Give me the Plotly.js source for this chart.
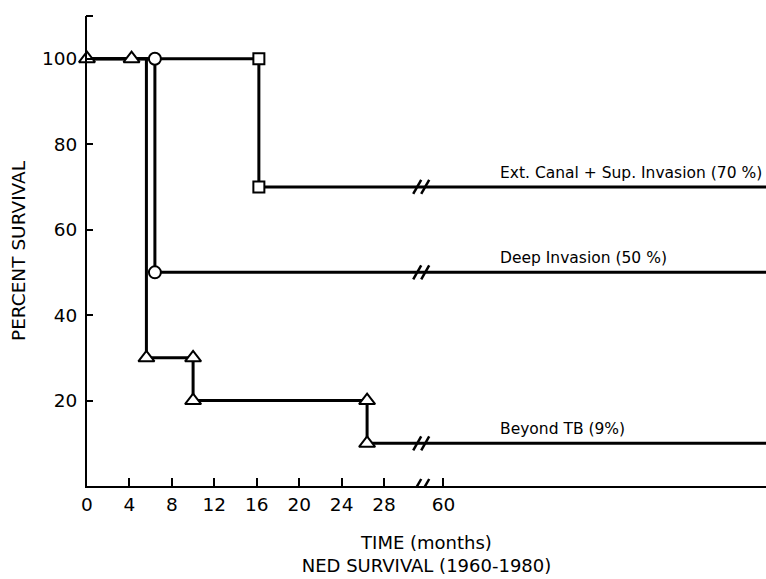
<!DOCTYPE html>
<html>
<head>
<meta charset="utf-8">
<script src="https://cdn.plot.ly/plotly-3.0.1.min.js"></script>
<style>html,body{margin:0;padding:0;background:#fff;}#chart{width:766px;height:579px;}</style>
</head>
<body>
<div id="chart"></div>
<script>
// ---- data (months, percent survival) ----
const extTimes   = [0, 16.2, 96];
const extSurv    = [100, 70, 70];
const extMarkT   = [16.2, 16.2];
const extMarkS   = [100, 70];

const deepTimes  = [0, 6.4, 96];
const deepSurv   = [100, 50, 50];
const deepMarkT  = [6.4, 6.4];
const deepMarkS  = [100, 50];

const beyTimes   = [0, 5.6, 10, 26.4, 96];
const beySurv    = [100, 30, 20, 10, 10];
const beyMarkT   = [0, 4.2, 5.6, 10, 10, 26.4, 26.4];
const beyMarkS   = [100, 100, 30, 30, 20, 20, 10];

const xTickVals  = [0, 4, 8, 12, 16, 20, 24, 28, 60];
const xTickText  = ['0', '4', '8', '12', '16', '20', '24', '28', '60'];
const yTickVals  = [20, 40, 60, 80, 100];
const yTickText  = ['20', '40', '60', '80', '100'];

const seriesLabels = ['Ext. Canal + Sup. Invasion (70 %)', 'Deep Invasion (50 %)', 'Beyond TB (9%)'];
const seriesEnd    = [70, 50, 10];

// ---- broken axis mapping ----
const BREAK_AT = 31.5;   // display position of the // mark
const SIXTY_AT = 33.6;   // display position of 60 months
function disp(t) { return t <= 30 ? t : t - 60 + SIXTY_AT; }
const D = arr => arr.map(disp);

const F = '"DejaVu Sans", sans-serif';
const lineStyle = {color: '#000', width: 3, shape: 'hv'};

function stepTrace(t, s) {
  return {x: D(t), y: s, mode: 'lines', line: lineStyle, hoverinfo: 'skip', showlegend: false};
}
function markTrace(t, s, sym, size) {
  return {x: D(t), y: s, mode: 'markers', hoverinfo: 'skip', showlegend: false, cliponaxis: false,
          marker: {symbol: sym, size: size, color: '#fff', line: {color: '#000', width: 2}}};
}

const data = [
  stepTrace(extTimes, extSurv),  markTrace(extMarkT, extMarkS, 'square', 11),
  stepTrace(deepTimes, deepSurv), markTrace(deepMarkT, deepMarkS, 'circle', 12),
  stepTrace(beyTimes, beySurv),  markTrace(beyMarkT, beyMarkS, 'triangle-up', 14)
];

// break marks "//" on each curve and on the x axis
const shapes = [];
function brk(yv) {
  [-4, 4].forEach(off => {
    shapes.push({type: 'line', xref: 'x', yref: 'y', xsizemode: 'pixel', ysizemode: 'pixel',
      xanchor: BREAK_AT, yanchor: yv, x0: off - 4, x1: off + 4, y0: -7, y1: 7,
      line: {color: '#000', width: 2.5}});
  });
}
seriesEnd.forEach(brk);
brk(0);
// small cap tick at the top of the y axis
shapes.push({type: 'line', xref: 'paper', yref: 'paper', xsizemode: 'pixel', xanchor: 0,
  x0: -1, x1: 6, y0: 1, y1: 1, line: {color: '#000', width: 2}});

const annotations = seriesLabels.map((txt, i) => ({
  xref: 'paper', yref: 'y', x: 0.606, y: seriesEnd[i], xanchor: 'left', yanchor: 'bottom',
  yshift: 3, text: txt, showarrow: false, font: {family: F, size: 15.5, color: '#000'}
}));

const layout = {
  width: 766, height: 579,
  margin: {l: 87, r: 0, t: 16, b: 93},
  paper_bgcolor: '#fff', plot_bgcolor: '#fff',
  showlegend: false,
  xaxis: {
    range: [0, 64], showgrid: false, zeroline: false,
    showline: true, linecolor: '#000', linewidth: 2,
    ticks: 'inside', ticklen: 8, tickwidth: 2, tickcolor: '#000',
    tickvals: xTickVals.map(disp), ticktext: xTickText,
    ticklabelstandoff: 1,
    tickfont: {family: F, size: 18.5, color: '#000'},
    title: {text: 'TIME (months)<br>NED SURVIVAL (1960-1980)', font: {family: F, size: 18, color: '#000'}, standoff: 22}
  },
  yaxis: {
    range: [0, 110], showgrid: false, zeroline: false,
    showline: true, linecolor: '#000', linewidth: 2,
    ticks: 'inside', ticklen: 6, tickwidth: 2, tickcolor: '#000',
    tickvals: yTickVals, ticktext: yTickText,
    ticklabelstandoff: 4,
    tickfont: {family: F, size: 18.5, color: '#000'},
    title: {text: 'PERCENT SURVIVAL', font: {family: F, size: 18.5, color: '#000'}, standoff: 12}
  },
  shapes: shapes,
  annotations: annotations
};

Plotly.newPlot('chart', data, layout, {displayModeBar: false, staticPlot: true});
</script>
</body>
</html>
